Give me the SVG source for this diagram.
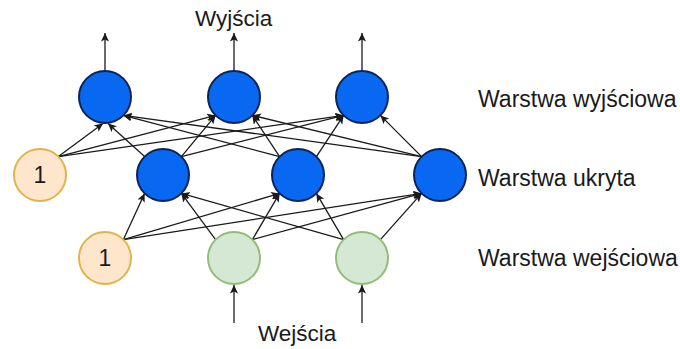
<svg xmlns="http://www.w3.org/2000/svg" width="680" height="349" viewBox="0 0 680 349">
  <style>
    .lbl { font-family: "Liberation Sans", Arial, sans-serif; font-size: 22.5px; fill: #1a1a1a; }
    .side { font-size: 23px; }
    .one { font-family: "Liberation Sans", Arial, sans-serif; font-size: 23px; fill: #1a1a1a; text-anchor: middle; }
    .neuron { fill: #0868f2; stroke: #0b2455; stroke-width: 2; }
    .bias { fill: #fde6cc; stroke: #e0b44a; stroke-width: 2; }
    .input { fill: #d5e8d4; stroke: #8fbe78; stroke-width: 2; }
    .edge { stroke: #1a1a1a; stroke-width: 1.3; fill: none; marker-end: url(#arrow); }
  </style>
  <defs>
    <marker id="arrow" markerUnits="userSpaceOnUse" markerWidth="10" markerHeight="9" refX="8.5" refY="4" orient="auto">
      <path d="M0,0 L8.5,4 L0,8 L2,4 z" fill="#1a1a1a"/>
    </marker>
  </defs>

  <rect width="680" height="349" fill="#ffffff"/>

  <!-- connectors -->
  <g id="connectors">
    <!-- output arrows -->
    <line class="edge" x1="105" y1="71" x2="105" y2="33"/>
    <line class="edge" x1="234" y1="71" x2="234" y2="33"/>
    <line class="edge" x1="362" y1="71" x2="362" y2="33"/>
    <!-- input arrows -->
    <line class="edge" x1="234" y1="323" x2="234" y2="285"/>
    <line class="edge" x1="362" y1="323" x2="362" y2="285"/>

    <!-- hidden bias -> output layer -->
    <line class="edge" x1="58.4" y1="156.6" x2="103" y2="123.5"/>
    <line class="edge" x1="58.4" y1="156.6" x2="215.6" y2="115.4"/>
    <line class="edge" x1="58.4" y1="156.6" x2="343.6" y2="115.4"/>
    <!-- hidden 1 -> output layer -->
    <line class="edge" x1="144.6" y1="156.6" x2="108" y2="123.5"/>
    <line class="edge" x1="181.4" y1="156.6" x2="215.6" y2="115.4"/>
    <line class="edge" x1="181.4" y1="156.6" x2="343.6" y2="115.4"/>
    <!-- hidden 2 -> output layer -->
    <line class="edge" x1="279.6" y1="156.6" x2="123.4" y2="115.4"/>
    <line class="edge" x1="279.6" y1="156.6" x2="252.4" y2="115.4"/>
    <line class="edge" x1="316.4" y1="156.6" x2="343.6" y2="115.4"/>
    <!-- hidden 3 -> output layer -->
    <line class="edge" x1="421.6" y1="156.6" x2="123.4" y2="115.4"/>
    <line class="edge" x1="421.6" y1="156.6" x2="252.4" y2="115.4"/>
    <line class="edge" x1="421.6" y1="156.6" x2="380.4" y2="115.4"/>

    <!-- input bias -> hidden layer -->
    <line class="edge" x1="123.4" y1="239.6" x2="144.6" y2="193.4"/>
    <line class="edge" x1="123.4" y1="239.6" x2="279.6" y2="193.4"/>
    <line class="edge" x1="123.4" y1="239.6" x2="421.6" y2="193.4"/>
    <!-- input 1 -> hidden layer -->
    <line class="edge" x1="215.6" y1="239.6" x2="181.4" y2="193.4"/>
    <line class="edge" x1="252.4" y1="239.6" x2="279.6" y2="193.4"/>
    <line class="edge" x1="252.4" y1="239.6" x2="421.6" y2="193.4"/>
    <!-- input 2 -> hidden layer -->
    <line class="edge" x1="343.6" y1="239.6" x2="181.4" y2="193.4"/>
    <line class="edge" x1="343.6" y1="239.6" x2="316.4" y2="193.4"/>
    <line class="edge" x1="380.4" y1="239.6" x2="421.6" y2="193.4"/>
  </g>

  <!-- output layer -->
  <g id="out1"><circle class="neuron" cx="105" cy="97" r="26"/></g>
  <g id="out2"><circle class="neuron" cx="234" cy="97" r="26"/></g>
  <g id="out3"><circle class="neuron" cx="362" cy="97" r="26"/></g>

  <!-- hidden layer -->
  <g id="bias-hidden"><circle class="bias" cx="40" cy="175" r="26"/><text class="one" x="40" y="183">1</text></g>
  <g id="hid1"><circle class="neuron" cx="163" cy="175" r="26"/></g>
  <g id="hid2"><circle class="neuron" cx="298" cy="175" r="26"/></g>
  <g id="hid3"><circle class="neuron" cx="440" cy="175" r="26"/></g>

  <!-- input layer -->
  <g id="bias-input"><circle class="bias" cx="105" cy="258" r="26"/><text class="one" x="105" y="266">1</text></g>
  <g id="in1"><circle class="input" cx="234" cy="258" r="26"/></g>
  <g id="in2"><circle class="input" cx="362" cy="258" r="26"/></g>

  <!-- labels -->
  <g id="labels">
    <text class="lbl" x="195" y="26">Wyjścia</text>
    <text class="lbl" x="258" y="341">Wejścia</text>
    <text class="lbl side" x="478" y="107">Warstwa wyjściowa</text>
    <text class="lbl side" x="478" y="186">Warstwa ukryta</text>
    <text class="lbl side" x="478" y="266">Warstwa wejściowa</text>
  </g>
</svg>
